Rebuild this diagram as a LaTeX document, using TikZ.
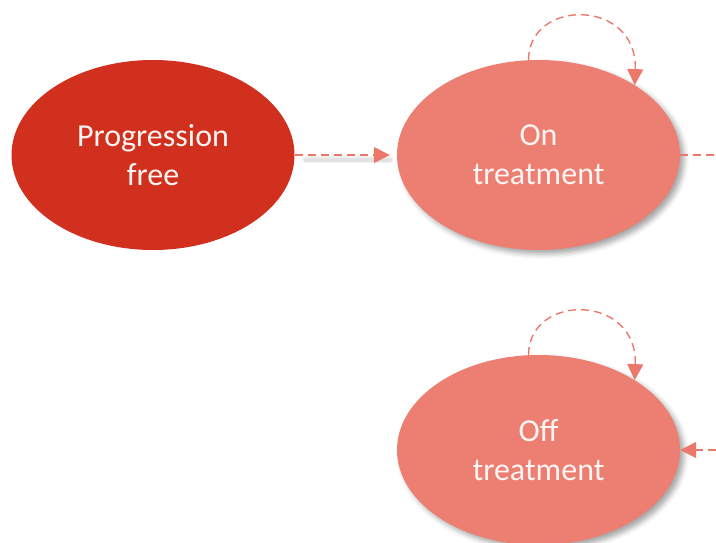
\documentclass[tikz,border=0pt]{standalone}
\usepackage{fontspec}
\setmainfont{Carlito}
\usetikzlibrary{shapes.geometric,arrows.meta,shadows.blur}

\definecolor{pfred}{RGB}{210,48,30}
\definecolor{statepink}{RGB}{236,126,114}
\definecolor{linkpink}{RGB}{236,120,108}
\definecolor{labelwhite}{RGB}{255,246,244}

\tikzset{
  state/.style={ellipse, draw=none, minimum width=283pt, minimum height=190pt,
    inner sep=0pt, align=center, text=labelwhite,
    font=\fontsize{32}{39}\selectfont},
  softshadow/.style={blur shadow={shadow xshift=4pt, shadow yshift=-4pt,
    shadow blur radius=5pt, shadow opacity=35}},
  link/.style={draw=linkpink, line width=1.4pt, dash pattern=on 8pt off 5pt,
    -{Triangle[length=16pt,width=16pt,fill=linkpink]}},
  linkshade/.style={draw=black, opacity=0.06, line cap=round},
}

\begin{document}
\begin{tikzpicture}[x=1pt,y=-1pt]
  \useasboundingbox (0,0) rectangle (716,543);

  % states
  \node[state, fill=pfred] (pf) at (153,155) {Progression\\free};
  \node[state, fill=statepink, softshadow] (on) at (538.5,155) {On\\treatment};
  \node[state, fill=statepink, softshadow] (off) at (538.5,450) {Off\\treatment};

  % loose ends leaving the frame
  \coordinate (onout) at (716,155);
  \coordinate (offin) at (716,450);

  % soft shadow under the horizontal link
  \begin{scope}[transform canvas={shift={(3pt,-5pt)}}]
    \draw[linkshade, line width=7pt] ([xshift=8pt]pf.east) -- ([xshift=-10pt]on.west);
    \draw[linkshade, line width=4pt] ([xshift=8pt]pf.east) -- ([xshift=-10pt]on.west);
  \end{scope}

  % transitions
  \draw[link] (pf.east) -- ([xshift=-7pt]on.west);
  \draw[link, -] (on.east) -- (onout);
  \draw[link] (offin) -- (off.east);

  % staying in the same state
  \draw[link] (on.96) .. controls +(0,-62) and +(3,-87) .. (on.36);
  \draw[link] (off.96) .. controls +(0,-62) and +(3,-87) .. (off.36);
\end{tikzpicture}
\end{document}
